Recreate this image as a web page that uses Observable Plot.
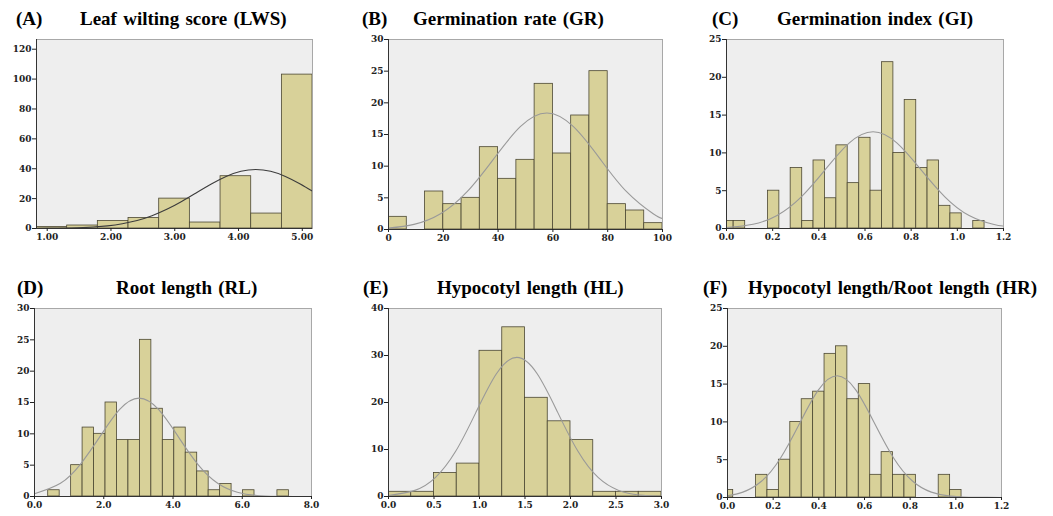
<!DOCTYPE html>
<html><head><meta charset="utf-8">
<script src="https://cdn.jsdelivr.net/npm/d3@7"></script>
<script src="https://cdn.jsdelivr.net/npm/@observablehq/plot@0.6"></script>
<style>
body{margin:0;background:#fff;}
#page{position:relative;width:1053px;height:516px;overflow:hidden;background:#fff;}
.panel{position:absolute;}
.ttl{position:absolute;font-family:"Liberation Serif","Times New Roman",serif;font-weight:bold;font-size:19px;line-height:19px;white-space:nowrap;color:#000;word-spacing:1.5px;}
</style></head><body><div id="page"></div>
<script>
// ---------- DATA ----------
// (A) Leaf wilting score
const lwsEdges  = [0.832, 1.313, 1.794, 2.275, 2.756, 3.237, 3.718, 4.199, 4.68, 5.16];
const lwsCounts = [1, 2, 5, 7, 20, 4, 35, 10, 103];
const lwsCurveX = [0.83, 1.015, 1.48, 1.945, 2.178, 2.41, 2.643, 2.875, 3.108, 3.34, 3.573, 3.805, 4.038, 4.27, 4.503, 4.735, 4.968, 5.16];
const lwsCurveY = [0.04, 0.09, 0.44, 1.73, 3.14, 5.34, 8.54, 12.83, 18.08, 23.96, 29.81, 34.86, 38.28, 39.5, 38.28, 34.86, 29.81, 25.0];
const lwsXTicks = [1, 2, 3, 4, 5];
const lwsYTicks = [0, 20, 40, 60, 80, 100, 120];

// (B) Germination rate
const grEdges  = [0, 6.67, 13.33, 20, 26.67, 33.33, 40, 46.67, 53.33, 60, 66.67, 73.33, 80, 86.67, 93.33, 100];
const grCounts = [2, 0, 6, 4, 5, 13, 8, 11, 23, 12, 18, 25, 4, 3, 1];
const grCurveX = [0, 9.3, 19.0, 28.7, 38.4, 48.1, 57.8, 67.5, 77.2, 86.9, 96.6, 100];
const grCurveY = [0.22, 0.81, 2.49, 5.97, 11.16, 16.24, 18.4, 16.24, 11.16, 5.97, 2.49, 1.73];
const grXTicks = [0, 20, 40, 60, 80, 100];
const grYTicks = [0, 5, 10, 15, 20, 25, 30];

// (C) Germination index
const giEdges  = [-0.018, 0.031, 0.081, 0.130, 0.180, 0.229, 0.278, 0.328, 0.377, 0.427, 0.476, 0.525, 0.575, 0.624, 0.674, 0.723, 0.772, 0.822, 0.871, 0.921, 0.970, 1.019, 1.069, 1.118];
const giCounts = [1, 1, 0, 0, 5, 0, 8, 1, 9, 4, 11, 6, 12, 5, 22, 10, 17, 8, 9, 3, 2, 0, 1];
const giCurveX = [0, 0.115, 0.219, 0.323, 0.427, 0.531, 0.635, 0.739, 0.843, 0.947, 1.051, 1.155, 1.2];
const giCurveY = [0.12, 0.56, 1.73, 4.16, 7.76, 11.30, 12.8, 11.30, 7.76, 4.16, 1.73, 0.56, 0.32];
const giXTicks = [0, 0.2, 0.4, 0.6, 0.8, 1.0, 1.2];
const giYTicks = [0, 5, 10, 15, 20, 25];

// (D) Root length
const rlEdges  = [0.396, 0.727, 1.058, 1.389, 1.72, 2.051, 2.382, 2.713, 3.044, 3.375, 3.706, 4.037, 4.368, 4.699, 5.03, 5.361, 5.692, 6.023, 6.354, 6.685, 7.016, 7.347];
const rlCounts = [1, 0, 5, 11, 10, 15, 9, 9, 25, 14, 9, 11, 7, 4, 1, 2, 0, 1, 0, 0, 1];
const rlCurveX = [0, 0.75, 1.318, 1.885, 2.453, 3.02, 3.588, 4.155, 4.723, 5.29, 5.858, 6.425, 6.993, 7.56, 8];
const rlCurveY = [0.45, 2.12, 5.10, 9.52, 13.86, 15.7, 13.86, 9.52, 5.10, 2.12, 0.69, 0.17, 0.03, 0.01, 0.0];
const rlXTicks = [0, 2, 4, 6, 8];
const rlYTicks = [0, 5, 10, 15, 20, 25, 30];

// (E) Hypocotyl length
const hlEdges  = [0, 0.25, 0.5, 0.75, 1.0, 1.25, 1.5, 1.75, 2.0, 2.25, 2.5, 2.75, 3.0];
const hlCounts = [1, 1, 5, 7, 31, 36, 21, 16, 12, 1, 1, 1];
const hlCurveX = [0, 0.29, 0.514, 0.738, 0.962, 1.186, 1.41, 1.634, 1.858, 2.082, 2.306, 2.53, 2.754, 3.0];
const hlCurveY = [0.21, 1.30, 4.0, 9.61, 17.95, 26.12, 29.6, 26.12, 17.95, 9.61, 4.0, 1.30, 0.33, 0.05];
const hlXTicks = [0, 0.5, 1.0, 1.5, 2.0, 2.5, 3.0];
const hlYTicks = [0, 10, 20, 30, 40];

// (F) Hypocotyl length / Root length
const hrEdges  = [-0.025, 0.025, 0.075, 0.125, 0.175, 0.225, 0.275, 0.325, 0.375, 0.425, 0.475, 0.525, 0.575, 0.625, 0.675, 0.725, 0.775, 0.825, 0.875, 0.925, 0.975, 1.025];
const hrCounts = [1, 0, 0, 3, 1, 5, 10, 13, 14, 19, 20, 13, 15, 3, 6, 3, 3, 0, 0, 3, 1];
const hrCurveX = [0, 0.0675, 0.15, 0.2325, 0.315, 0.3975, 0.48, 0.5625, 0.645, 0.7275, 0.81, 0.8925, 0.975, 1.0575, 1.14, 1.2];
const hrCurveY = [0.23, 0.71, 2.18, 5.23, 9.76, 14.21, 16.1, 14.21, 9.76, 5.23, 2.18, 0.71, 0.18, 0.04, 0.01, 0.0];
const hrXTicks = [0, 0.2, 0.4, 0.6, 0.8, 1.0, 1.2];
const hrYTicks = [0, 5, 10, 15, 20, 25];

const panelLabels = ["(A)", "(B)", "(C)", "(D)", "(E)", "(F)"];
const panelTitles = ["Leaf wilting score (LWS)", "Germination rate (GR)", "Germination index (GI)",
                     "Root length (RL)", "Hypocotyl length (HL)", "Hypocotyl length/Root length (HR)"];

// ---------- LAYOUT / STYLE ----------
const panels = [
  {edges: lwsEdges, counts: lwsCounts, cx: lwsCurveX, cy: lwsCurveY, xDomain: [0.832, 5.16], yDomain: [0, 126.5], xTicks: lwsXTicks, yTicks: lwsYTicks, fmt: ".2f", curveColor: "#3c3c3c",
   L: 36, T: 39, W: 275.7, H: 189.3, labX: 16, ttlX: 80, base: 25},
  {edges: grEdges, counts: grCounts, cx: grCurveX, cy: grCurveY, xDomain: [0, 100], yDomain: [0, 30], xTicks: grXTicks, yTicks: grYTicks, fmt: "d", curveColor: "#999",
   L: 387.7, T: 39, W: 274, H: 190.3, labX: 362, ttlX: 413, base: 25},
  {edges: giEdges, counts: giCounts, cx: giCurveX, cy: giCurveY, xDomain: [0, 1.2], yDomain: [0, 25], xTicks: giXTicks, yTicks: giYTicks, fmt: ".1f", curveColor: "#999",
   L: 726, T: 39, W: 276.7, H: 189.3, labX: 712, ttlX: 777, base: 25},
  {edges: rlEdges, counts: rlCounts, cx: rlCurveX, cy: rlCurveY, xDomain: [0, 8], yDomain: [0, 30], xTicks: rlXTicks, yTicks: rlYTicks, fmt: ".1f", curveColor: "#999",
   L: 34.3, T: 308.3, W: 277.4, H: 187.7, labX: 17, ttlX: 116, base: 294},
  {edges: hlEdges, counts: hlCounts, cx: hlCurveX, cy: hlCurveY, xDomain: [0, 3], yDomain: [0, 40], xTicks: hlXTicks, yTicks: hlYTicks, fmt: ".1f", curveColor: "#999",
   L: 388.3, T: 307.7, W: 273.4, H: 187.6, labX: 363, ttlX: 437, base: 294},
  {edges: hrEdges, counts: hrCounts, cx: hrCurveX, cy: hrCurveY, xDomain: [0, 1.2], yDomain: [0, 25], xTicks: hrXTicks, yTicks: hrYTicks, fmt: ".1f", curveColor: "#999",
   L: 727.3, T: 308.3, W: 273.7, H: 189.4, labX: 703, ttlX: 748, base: 294}
];

const page = document.getElementById("page");
const mL = 36, mR = 16, mT = 6, mB = 22;

panels.forEach((p, i) => {
  const bins = p.counts.map((c, k) => ({x1: p.edges[k], x2: p.edges[k + 1], n: c})).filter(d => d.n > 0);
  const curve = p.cx.map((x, k) => ({x, y: p.cy[k]}));
  const svg = Plot.plot({
    width: Math.round(p.W + mL + mR),
    height: Math.round(p.H + mT + mB),
    marginLeft: mL, marginRight: mR, marginTop: mT, marginBottom: mB,
    x: {domain: p.xDomain},
    y: {domain: p.yDomain},
    style: {fontFamily: "'DejaVu Serif', serif", fontWeight: "bold", fontSize: "9px", background: "transparent", color: "#222", overflow: "visible"},
    marks: [
      Plot.frame({fill: "#eeeeee", stroke: "#a8a8a8"}),
      Plot.rect(bins, {x1: "x1", x2: "x2", y1: () => 0, y2: "n", fill: "#d8d199", stroke: "#4b4732", strokeWidth: 0.8, clip: true}),
      Plot.line(curve, {x: "x", y: "y", curve: "natural", stroke: p.curveColor, strokeWidth: 1.1, clip: true}),
      Plot.ruleY([0], {stroke: "#333"}),
      Plot.ruleX([p.xDomain[0]], {stroke: "#333"}),
      Plot.axisX({ticks: p.xTicks, tickFormat: d3.format(p.fmt), tickSize: 3, tickPadding: 2, label: null}),
      Plot.axisY({ticks: p.yTicks, tickFormat: d3.format("d"), tickSize: 4, tickPadding: 1, label: null})
    ]
  });
  const wrap = document.createElement("div");
  wrap.className = "panel";
  wrap.style.left = (p.L - mL) + "px";
  wrap.style.top = (p.T - mT) + "px";
  wrap.appendChild(svg);
  page.appendChild(wrap);

  const lab = document.createElement("div");
  lab.className = "ttl";
  lab.textContent = panelLabels[i];
  lab.style.left = p.labX + "px";
  lab.style.top = (p.base - 15.9) + "px";
  page.appendChild(lab);

  const ttl = document.createElement("div");
  ttl.className = "ttl";
  ttl.textContent = panelTitles[i];
  ttl.style.left = p.ttlX + "px";
  ttl.style.top = (p.base - 15.9) + "px";
  page.appendChild(ttl);
});
</script>
</body></html>
